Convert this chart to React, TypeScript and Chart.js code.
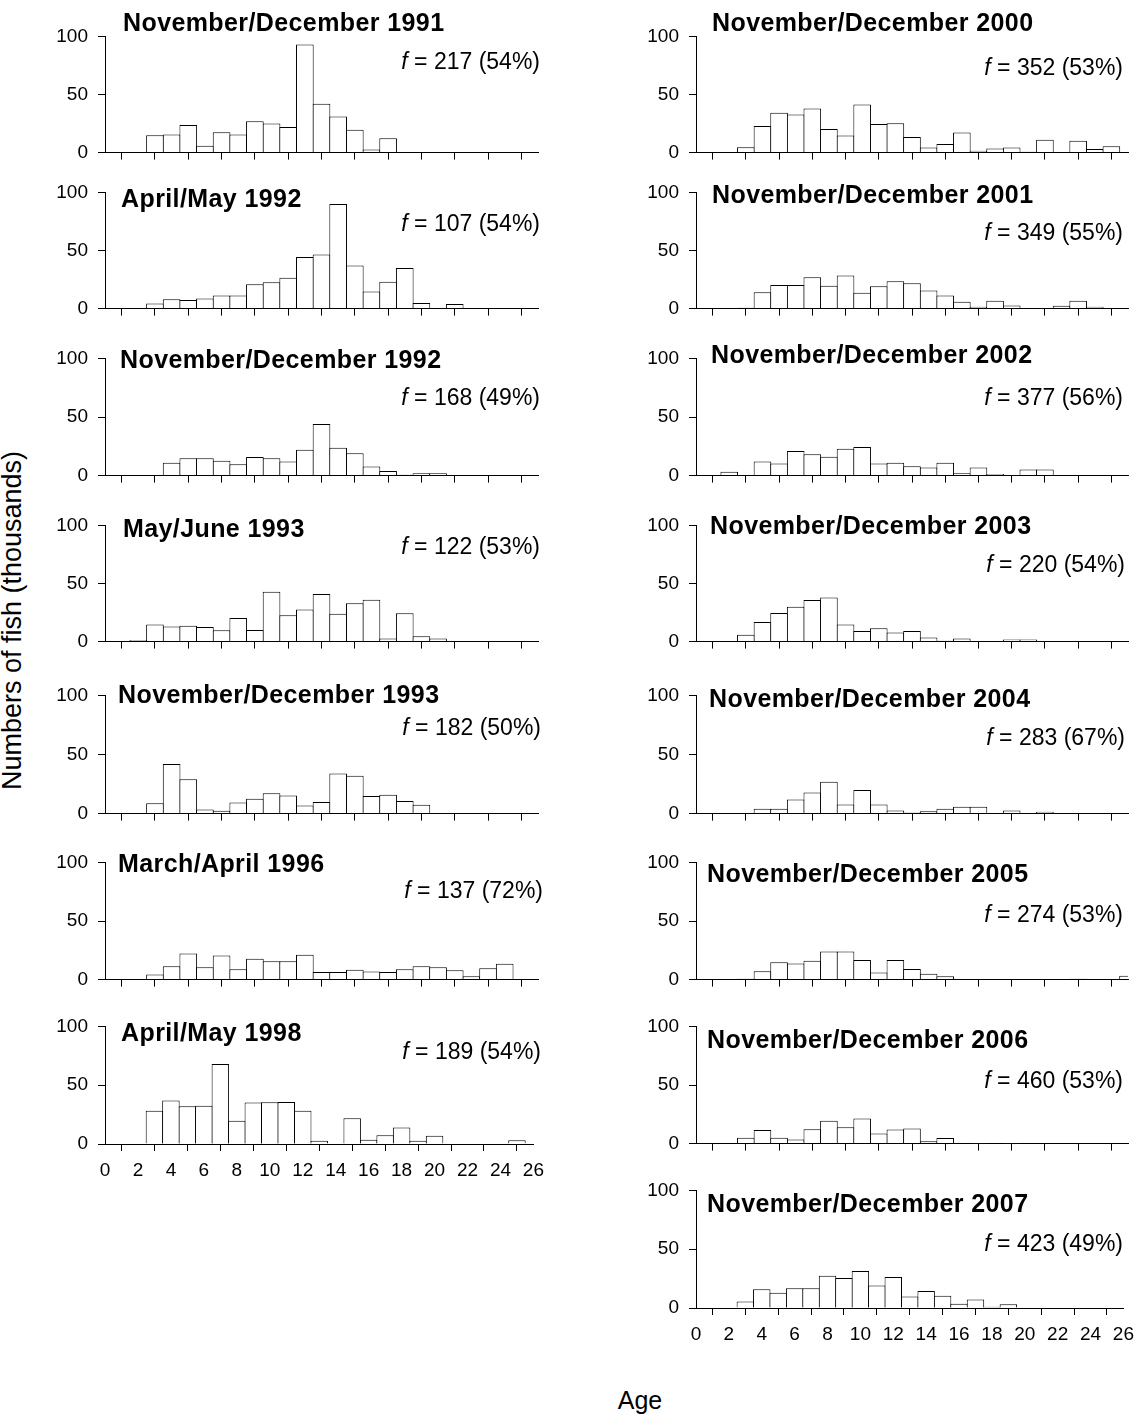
import React, { useEffect, useRef } from "react";
import { Chart, registerables } from "chart.js";

Chart.register(...registerables);

// ---------- data ----------
const AGES = [2, 3, 4, 5, 6, 7, 8, 9, 10, 11, 12, 13, 14, 15, 16, 17, 18, 19, 20, 21, 22, 23, 24, 25, 26];
const X_TICKS = [0, 2, 4, 6, 8, 10, 12, 14, 16, 18, 20, 22, 24, 26];
const Y_TICKS = [0, 50, 100];

// values in thousands, ages 2..26
const ND_1991 = [0, 15, 15.6, 23.7, 6, 17.5, 15.6, 27, 25, 22, 93, 42, 31, 19.6, 2.7, 12.4, 0, 0, 0, 0, 0, 0, 0, 0, 0];
const AM_1992 = [0, 4.3, 8, 7.3, 8.6, 11.3, 11.3, 21, 22.6, 26.6, 44.4, 46.5, 90, 37, 14.8, 23, 35, 4.8, 0, 4, 0, 0, 0, 0, 0];
const ND_1992 = [0, 0, 11, 14.7, 14.7, 12.6, 9.6, 15.8, 14.7, 12, 22, 44, 23.8, 19, 7.8, 4, 0.8, 2.1, 2.1, 0, 0, 0, 0, 0, 0];
const MJ_1993 = [1.3, 14.7, 12.9, 13.7, 12.6, 9.7, 20.4, 10, 43, 22.6, 27.7, 41, 24, 33, 36, 2.7, 24.5, 4.6, 2.7, 0, 0, 0, 0, 0, 0];
const ND_1993 = [0, 8.8, 42, 29, 3.5, 2.4, 9.3, 12.5, 17.3, 15.4, 6.9, 9.8, 34, 32, 14.9, 16, 10.6, 7.4, 0, 0, 0, 0, 0, 0, 0];
const MA_1996 = [0, 4.3, 11.4, 22.3, 10.6, 20.5, 8.8, 17.8, 15.7, 15.7, 21.3, 6.4, 6.4, 8.5, 6.9, 6.4, 8.8, 11.4, 10.6, 8, 2.9, 9.6, 13.6, 0, 0];
const AM_1998 = [0, 28.3, 37, 32, 32.6, 68, 19.8, 35.3, 35.6, 35.8, 28.3, 2.7, 0, 22, 3.7, 7.5, 14, 2.7, 7, 0, 0, 0, 0, 3.2, 0];
const ND_2000 = [0, 4.6, 22.8, 34.4, 32.8, 38, 20.4, 14.8, 41.4, 24.7, 25.3, 13.4, 4.3, 7.5, 17.2, 1.6, 3.5, 4.3, 0.8, 11, 0, 10.2, 3.2, 5.4, 0];
const ND_2001 = [0, 0.8, 14, 20.4, 20.4, 27, 19.6, 28.5, 13.7, 19.3, 23.6, 21.8, 15.6, 11.3, 5.9, 1.6, 6.7, 2.7, 0.5, 0.5, 2.4, 6.7, 1.6, 0, 0];
const ND_2002 = [3.2, 0.5, 12, 10.4, 21, 18.2, 16, 23, 24.3, 10.4, 11, 8, 7, 11, 2.1, 7, 1.3, 0.3, 5.3, 5.3, 0, 0, 0, 0, 0];
const ND_2003 = [0, 5.9, 16.8, 24.6, 30, 35.8, 38, 14.7, 9.1, 11.5, 7.8, 9.1, 3.5, 0.8, 2.7, 0, 0, 1.9, 1.9, 0, 0, 0, 0, 0, 0];
const ND_2004 = [0, 0, 4, 4, 12, 17.8, 27, 7.7, 20, 7.7, 2.7, 1, 1.9, 4, 5.9, 5.9, 0, 2.7, 0, 1.6, 0, 0, 0, 0, 0];
const ND_2005 = [0, 0.8, 7.2, 14.9, 13.8, 16, 24, 24, 16.8, 6.1, 16.8, 9, 5, 2.9, 0, 0, 0.6, 0, 0, 0, 0, 0.8, 0, 0, 3.2];
const ND_2006 = [0, 5, 11.5, 5, 3.5, 12.3, 19.5, 13.9, 21.4, 8.6, 12, 12.8, 1.9, 4.8, 0, 0.3, 0, 0.3, 0, 0, 0, 0, 0, 0, 0];
const ND_2007 = [0, 5.6, 16, 13, 16.8, 16.8, 27.4, 25.6, 31.4, 19.2, 26.3, 9.8, 14.4, 10.4, 3.7, 7.2, 1, 3.2, 0, 0, 0, 0, 0, 0, 0];

const TITLES = [
  "November/December 1991", "April/May 1992", "November/December 1992", "May/June 1993",
  "November/December 1993", "March/April 1996", "April/May 1998",
  "November/December 2000", "November/December 2001", "November/December 2002", "November/December 2003",
  "November/December 2004", "November/December 2005", "November/December 2006", "November/December 2007",
];
const F_TEXTS = [
  "217 (54%)", "107 (54%)", "168 (49%)", "122 (53%)", "182 (50%)", "137 (72%)", "189 (54%)",
  "352 (53%)", "349 (55%)", "377 (56%)", "220 (54%)", "283 (67%)", "274 (53%)", "460 (53%)", "423 (49%)",
];
const SERIES = [ND_1991, AM_1992, ND_1992, MJ_1993, ND_1993, MA_1996, AM_1998,
  ND_2000, ND_2001, ND_2002, ND_2003, ND_2004, ND_2005, ND_2006, ND_2007];

// ---------- layout ----------
const FONT = '"Liberation Sans", Arial, Helvetica, sans-serif';
const COLS = { L: { left: 105, right: 538 }, R: { left: 696, right: 1128 } };
const YW = 75; // y axis width
const PT = 14;
const PB = 14;
const PR = 14;

type Layout = { col: "L" | "R"; y100: number; y0: number; tx: number; ty: number; fr: number; fy: number; showX: boolean };
const LAYOUT: Layout[] = [
  { col: "L", y100: 29, y0: 153, tx: 123, ty: 31, fr: 540, fy: 69, showX: false },
  { col: "L", y100: 185, y0: 309, tx: 121, ty: 207, fr: 540, fy: 231, showX: false },
  { col: "L", y100: 351, y0: 476, tx: 120, ty: 368, fr: 540, fy: 405, showX: false },
  { col: "L", y100: 518, y0: 642, tx: 123, ty: 537, fr: 540, fy: 554, showX: false },
  { col: "L", y100: 688, y0: 814, tx: 118, ty: 703, fr: 541, fy: 735, showX: false },
  { col: "L", y100: 855, y0: 980, tx: 118, ty: 872, fr: 543, fy: 898, showX: false },
  { col: "L", y100: 1019, y0: 1144, tx: 121, ty: 1041, fr: 541, fy: 1059, showX: true },
  { col: "R", y100: 29, y0: 153, tx: 712, ty: 31, fr: 1123, fy: 75, showX: false },
  { col: "R", y100: 185, y0: 309, tx: 712, ty: 203, fr: 1123, fy: 240, showX: false },
  { col: "R", y100: 351, y0: 476, tx: 711, ty: 363, fr: 1123, fy: 405, showX: false },
  { col: "R", y100: 518, y0: 642, tx: 710, ty: 534, fr: 1125, fy: 572, showX: false },
  { col: "R", y100: 688, y0: 814, tx: 709, ty: 707, fr: 1125, fy: 745, showX: false },
  { col: "R", y100: 855, y0: 980, tx: 707, ty: 882, fr: 1123, fy: 922, showX: false },
  { col: "R", y100: 1019, y0: 1144, tx: 707, ty: 1048, fr: 1123, fy: 1088, showX: false },
  { col: "R", y100: 1183, y0: 1308, tx: 707, ty: 1212, fr: 1123, fy: 1251, showX: true },
];

const TITLE_FS = 25;
const F_FS = 23;
const TICK_FS = 19;

function Panel({ idx }: { idx: number }) {
  const ref = useRef<HTMLCanvasElement>(null);
  const lay = LAYOUT[idx];
  const col = COLS[lay.col];
  const XH = lay.showX ? 42 : 7;
  const left = col.left - YW;
  const width = col.right + PR - left;
  const top = lay.y100 - PT;
  const height = PT + (lay.y0 - lay.y100) + XH + PB;

  useEffect(() => {
    if (!ref.current) return;
    const values = SERIES[idx];
    const chart = new Chart(ref.current, {
      type: "bar",
      data: {
        datasets: [
          {
            data: AGES.map((a, i) => ({ x: a, y: values[i] > 0 ? values[i] : null })),
            backgroundColor: "#ffffff",
            borderColor: "#000000",
            borderWidth: 1,
            barPercentage: 1.06,
            categoryPercentage: 1,
          } as any,
        ],
      },
      options: {
        animation: false,
        responsive: false,
        maintainAspectRatio: false,
        devicePixelRatio: 1,
        layout: { padding: { top: PT, right: PR, bottom: PB, left: 0 } },
        plugins: { legend: { display: false }, tooltip: { enabled: false }, title: { display: false } },
        scales: {
          x: {
            type: "linear",
            min: 0,
            max: 26,
            offset: false,
            afterBuildTicks: (s: any) => {
              s.ticks = X_TICKS.map((v) => ({ value: v }));
            },
            afterFit: (s: any) => {
              s.height = XH;
            },
            ticks: {
              display: lay.showX,
              autoSkip: false,
              maxRotation: 0,
              padding: 8,
              color: "#000",
              font: { family: FONT, size: TICK_FS },
            },
            grid: { display: true, drawOnChartArea: false, drawTicks: true, tickLength: 7, color: "#000", tickColor: "#000", lineWidth: 1 },
            border: { display: true, color: "#000", width: 1 },
          },
          y: {
            min: 0,
            max: 100,
            afterBuildTicks: (s: any) => {
              s.ticks = Y_TICKS.map((v) => ({ value: v }));
            },
            afterFit: (s: any) => {
              s.width = YW;
            },
            ticks: { padding: 10, color: "#000", font: { family: FONT, size: TICK_FS } },
            grid: { display: true, drawOnChartArea: false, drawTicks: true, tickLength: 7, color: "#000", tickColor: "#000", lineWidth: 1 },
            border: { display: true, color: "#000", width: 1 },
          },
        },
      } as any,
    });
    return () => chart.destroy();
  }, [idx]);

  return (
    <>
      <canvas ref={ref} width={width} height={height} style={{ position: "absolute", left, top, width, height }} />
      <div
        style={{
          position: "absolute",
          left: lay.tx,
          top: lay.ty - 0.8465 * TITLE_FS,
          fontSize: TITLE_FS,
          lineHeight: `${TITLE_FS}px`,
          fontWeight: "bold",
          fontFamily: FONT,
          letterSpacing: "0.4px",
          whiteSpace: "nowrap",
          color: "#000",
        }}
      >
        {TITLES[idx]}
      </div>
      <div
        style={{
          position: "absolute",
          right: 1143 - lay.fr,
          top: lay.fy - 0.8465 * F_FS,
          fontSize: F_FS,
          lineHeight: `${F_FS}px`,
          fontFamily: FONT,
          whiteSpace: "nowrap",
          color: "#000",
        }}
      >
        <i>f</i> = {F_TEXTS[idx]}
      </div>
    </>
  );
}

export default function App() {
  return (
    <div style={{ position: "absolute", left: 0, top: 0, width: 1143, height: 1416, background: "#fff", overflow: "hidden" }}>
      {LAYOUT.map((_, i) => (
        <Panel key={i} idx={i} />
      ))}
      <div
        style={{
          position: "absolute",
          left: 12 - 250,
          top: 620 - 13.5,
          width: 500,
          height: 27,
          lineHeight: "27px",
          textAlign: "center",
          fontSize: 27,
          fontFamily: FONT,
          transform: "rotate(-90deg)",
          transformOrigin: "50% 50%",
          whiteSpace: "nowrap",
          color: "#000",
        }}
      >
        Numbers of fish (thousands)
      </div>
      <div
        style={{
          position: "absolute",
          left: 640 - 100,
          top: 1409 - 0.8465 * 25,
          width: 200,
          textAlign: "center",
          fontSize: 25,
          lineHeight: "25px",
          fontFamily: FONT,
          color: "#000",
        }}
      >
        Age
      </div>
    </div>
  );
}
